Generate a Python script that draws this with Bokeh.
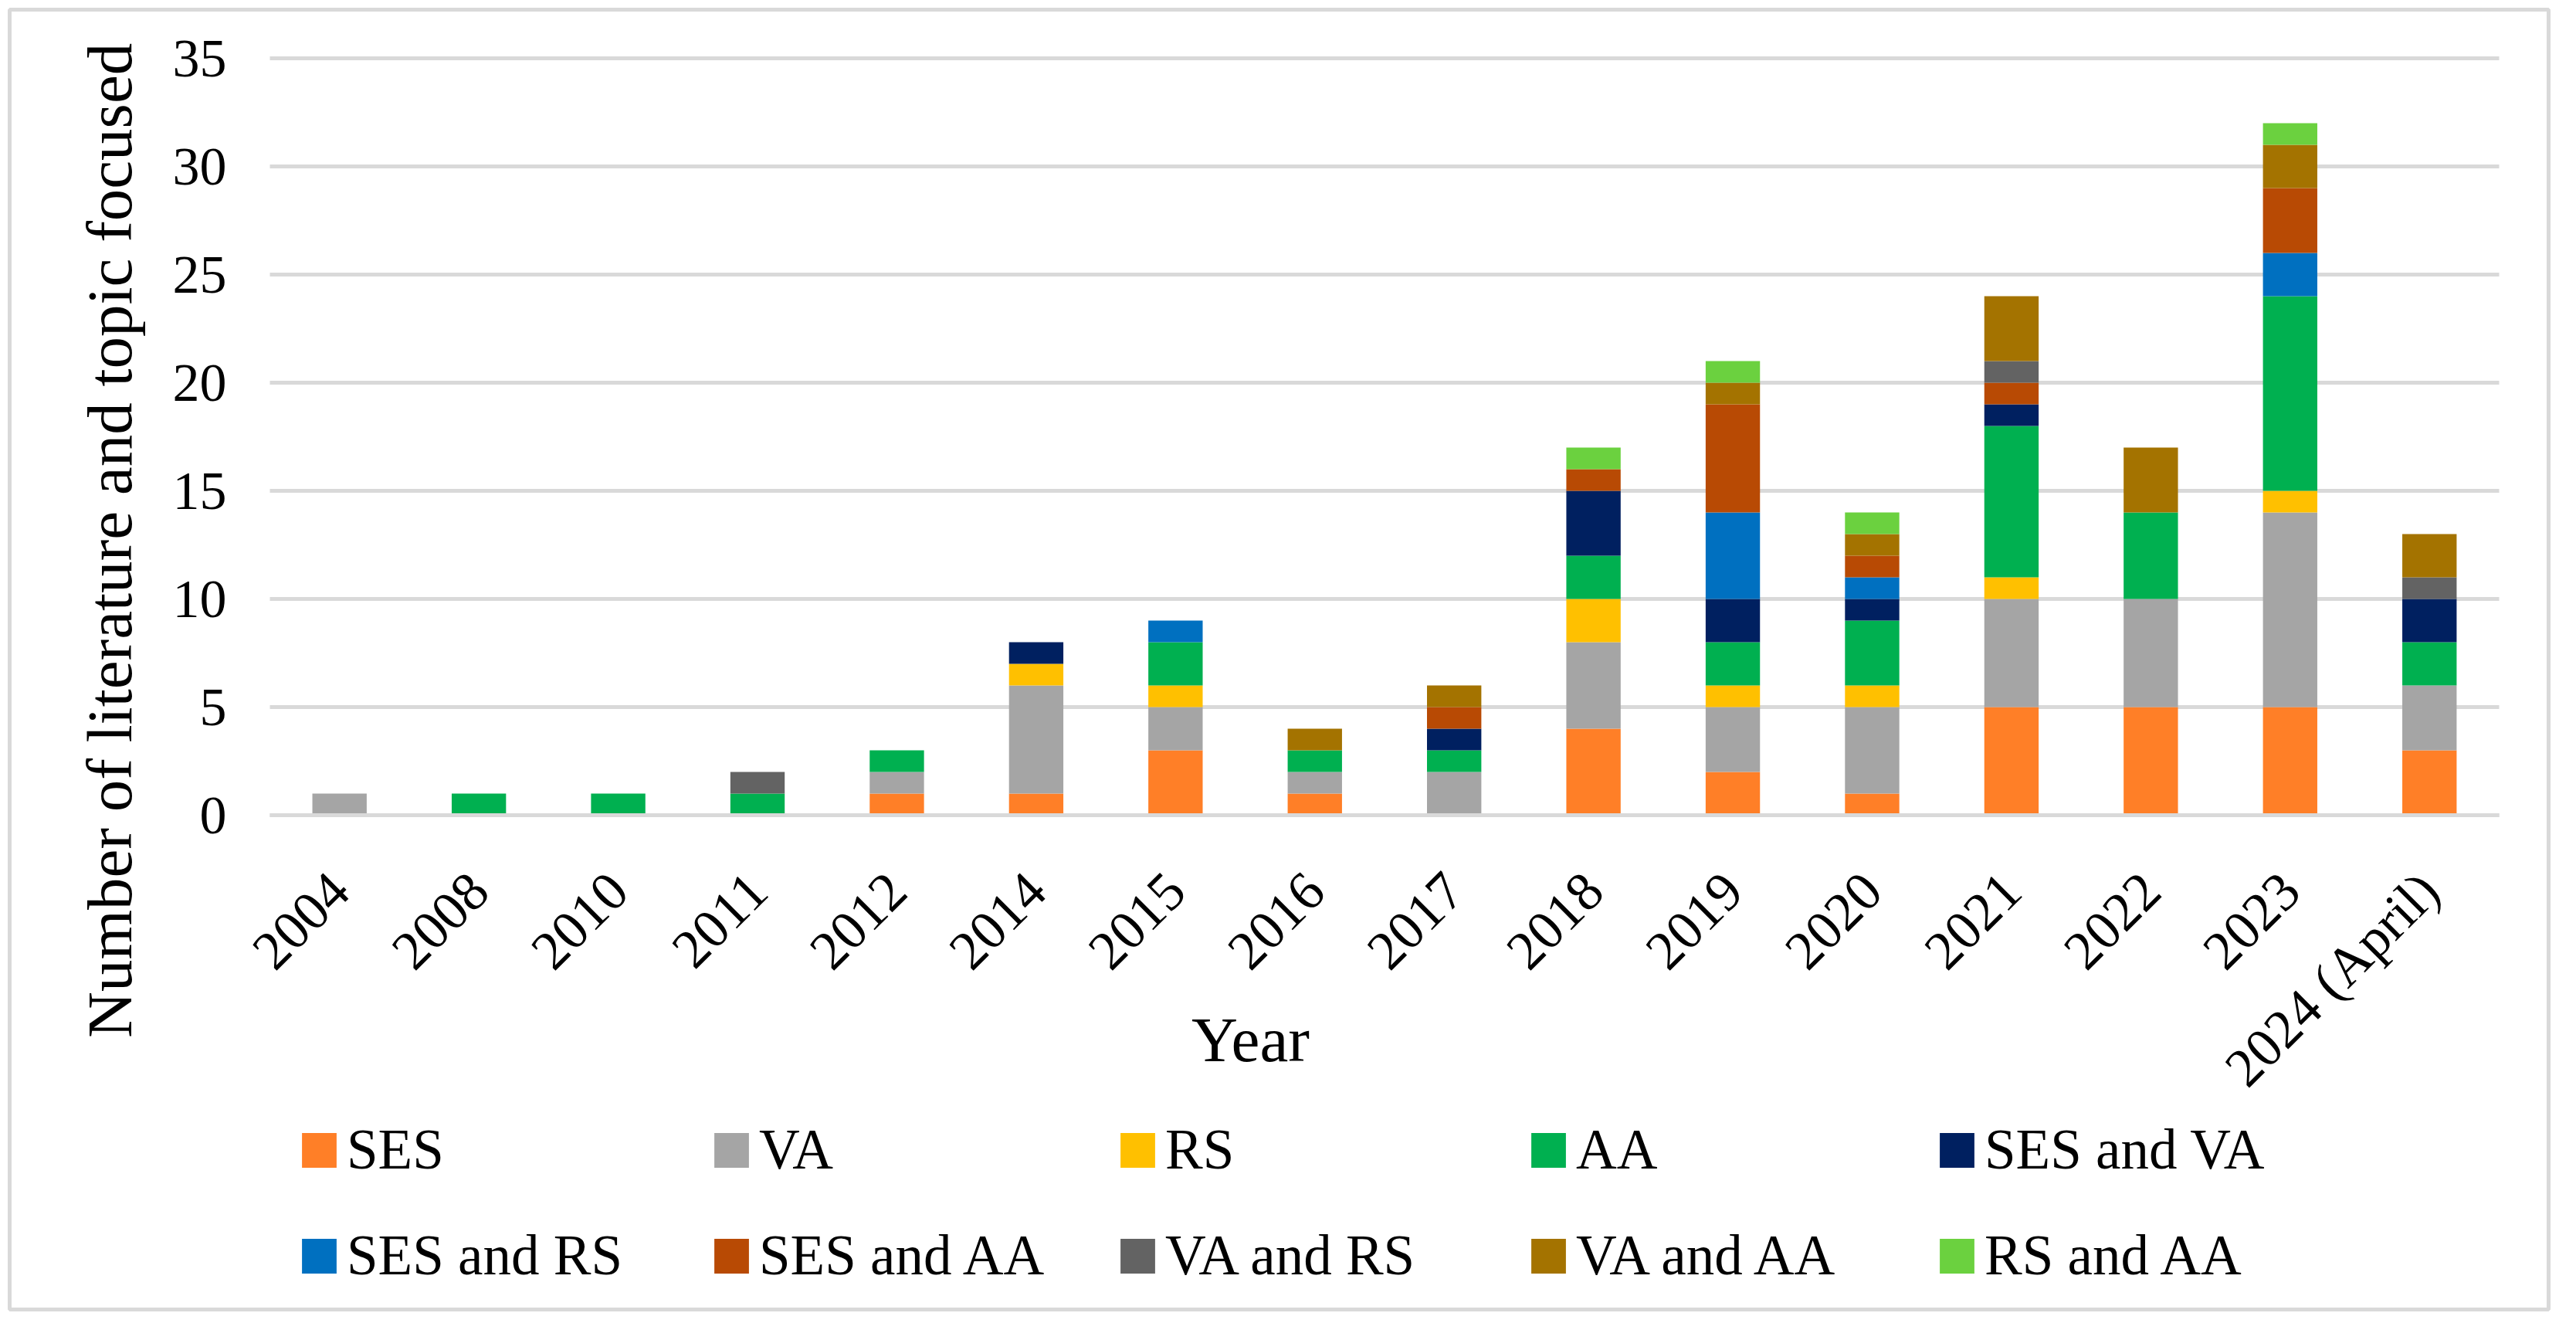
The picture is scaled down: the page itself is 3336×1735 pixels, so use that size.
import math
from bokeh.plotting import figure
from bokeh.models import (Range1d, FixedTicker, Legend, LegendItem, Label,
                          ColumnDataSource)
from bokeh.embed import file_html
from bokeh.resources import INLINE

years = ["2004", "2008", "2010", "2011", "2012", "2014", "2015", "2016", "2017",
         "2018", "2019", "2020", "2021", "2022", "2023", "2024 (April)"]
series = ["SES", "VA", "RS", "AA", "SES and VA", "SES and RS", "SES and AA",
          "VA and RS", "VA and AA", "RS and AA"]
colors = ["#FF7F27", "#A5A5A5", "#FFC000", "#00B050", "#002060", "#0070C0",
          "#B84A04", "#636363", "#A47300", "#6BD13F"]

ses    = [0, 0, 0, 0, 1, 1, 3, 1, 0, 4, 2, 1, 5, 5, 5, 3]
va     = [1, 0, 0, 0, 1, 5, 2, 1, 2, 4, 3, 4, 5, 5, 9, 3]
rs     = [0, 0, 0, 0, 0, 1, 1, 0, 0, 2, 1, 1, 1, 0, 1, 0]
aa     = [0, 1, 1, 1, 1, 0, 2, 1, 1, 2, 2, 3, 7, 4, 9, 2]
ses_va = [0, 0, 0, 0, 0, 1, 0, 0, 1, 3, 2, 1, 1, 0, 0, 2]
ses_rs = [0, 0, 0, 0, 0, 0, 1, 0, 0, 0, 4, 1, 0, 0, 2, 0]
ses_aa = [0, 0, 0, 0, 0, 0, 0, 0, 1, 1, 5, 1, 1, 0, 3, 0]
va_rs  = [0, 0, 0, 1, 0, 0, 0, 0, 0, 0, 0, 0, 1, 0, 0, 1]
va_aa  = [0, 0, 0, 0, 0, 0, 0, 1, 1, 0, 1, 1, 3, 3, 2, 2]
rs_aa  = [0, 0, 0, 0, 0, 0, 0, 0, 0, 1, 1, 1, 0, 0, 1, 0]

y_ticks = [0, 5, 10, 15, 20, 25, 30, 35]
x_title = "Year"
y_title = "Number of literature and topic focused"

values = [ses, va, rs, aa, ses_va, ses_rs, ses_aa, va_rs, va_aa, rs_aa]
pos = list(range(len(years)))
data = {"x": pos, "year": years}
for name, vals in zip(series, values):
    data[name] = vals
source = ColumnDataSource(data)

FONT = "Liberation Serif"
n = len(years)

p = figure(width=3312, height=1707,
           x_range=Range1d(-2.3677, n - 0.5 + 0.355),
           y_range=Range1d(-22.857, 37.25),
           output_backend="svg", toolbar_location=None,
           min_border_left=12, min_border_right=12, min_border_top=12,
           min_border_bottom=12)
p.outline_line_color = "#D9D9D9"
p.outline_line_width = 5
p.background_fill_color = "white"
p.border_fill_color = "white"

renderers = p.vbar_stack(series, x="x", width=0.39, color=colors, source=source,
                         line_width=0)

p.xgrid.grid_line_color = None
p.ygrid.grid_line_color = "#D9D9D9"
p.ygrid.grid_line_width = 5
p.ygrid.cross_bounds = (-0.5, n - 0.5)

p.yaxis.ticker = FixedTicker(ticks=y_ticks)
p.xaxis.ticker = FixedTicker(ticks=pos)
p.xaxis.major_label_overrides = {i: y for i, y in zip(pos, years)}

for ax in (p.xaxis[0], p.yaxis[0]):
    ax.major_tick_line_color = None
    ax.minor_tick_line_color = None
    ax.major_tick_out = 0
    ax.major_tick_in = 0
    ax.major_label_text_font = FONT
    ax.major_label_text_color = "black"

p.yaxis.fixed_location = -0.5
p.yaxis.axis_line_color = None
p.yaxis.major_label_text_font_size = "70px"
p.yaxis.major_label_standoff = 56

p.xaxis.fixed_location = 0
p.xaxis.bounds = (-0.5, n - 0.5)
p.xaxis.axis_line_color = "#D9D9D9"
p.xaxis.axis_line_width = 5
p.xaxis.major_label_text_font_size = "71px"
p.xaxis.major_label_orientation = math.pi / 4
p.xaxis.major_label_standoff = 86

p.add_layout(Label(x=6.538, y=-10.39, text=x_title, text_font=FONT,
                   text_font_size="83px", text_align="center",
                   text_baseline="alphabetic", text_color="black"))
p.add_layout(Label(x=-1.648, y=12.70, text=y_title, text_font=FONT,
                   text_font_size="83px", text_align="center", angle=math.pi / 2,
                   text_baseline="alphabetic", text_color="black"))

col_x = [373, 907, 1433, 1965, 2494]
for i in range(5):
    items = [LegendItem(label=series[i], renderers=[renderers[i]]),
             LegendItem(label=series[i + 5], renderers=[renderers[i + 5]])]
    lg = Legend(items=items, location=(col_x[i], 27), orientation="vertical",
                border_line_color=None, background_fill_alpha=0, padding=0,
                margin=0, spacing=53, glyph_width=56, glyph_height=56,
                label_height=56, label_standoff=8, label_text_font=FONT,
                label_text_font_size="73px", label_text_color="black")
    p.add_layout(lg, "center")

open("out.html", "w").write(file_html(p, INLINE))
